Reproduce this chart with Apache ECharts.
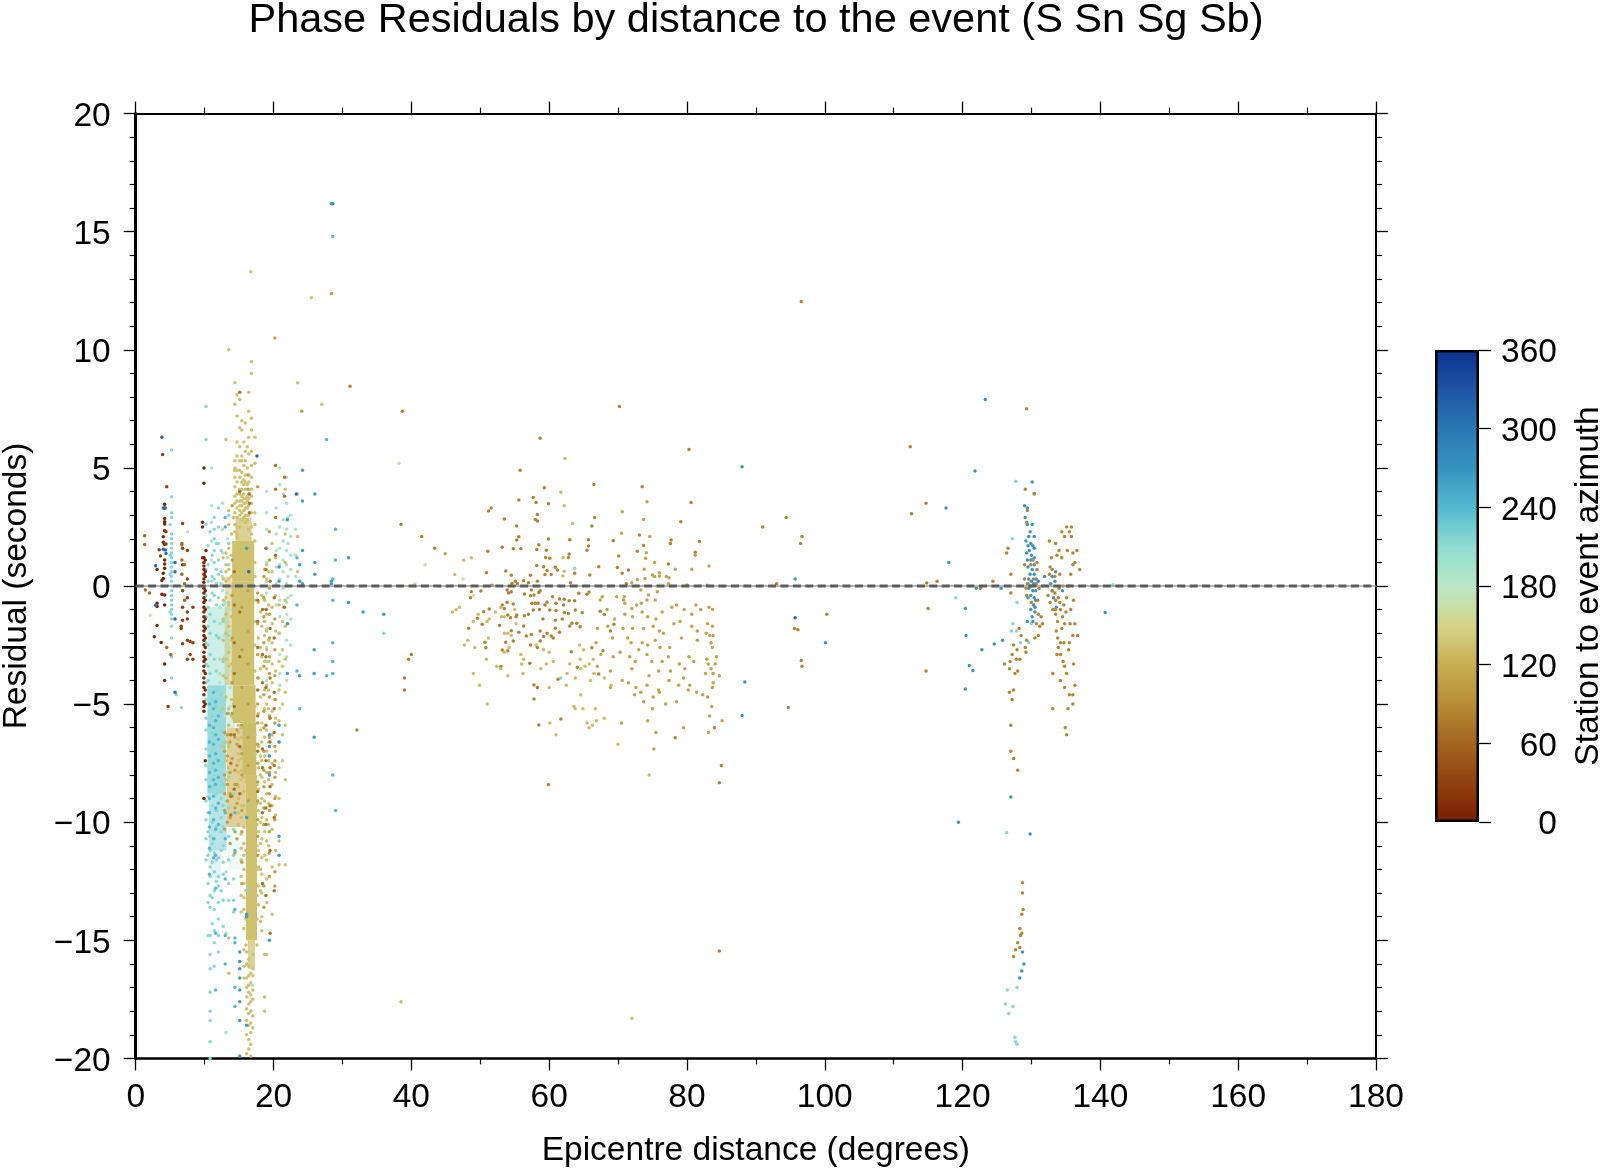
<!DOCTYPE html>
<html><head><meta charset="utf-8">
<script src="https://cdn.jsdelivr.net/npm/echarts@6/dist/echarts.min.js"></script>
<style>html,body{margin:0;padding:0;background:#fff}#c{width:1600px;height:1169px}</style>
</head><body><div id="c"></div>
<script>
const titleText = "Phase Residuals by distance to the event (S Sn Sg Sb)";
const xName = "Epicentre distance (degrees)";
const yName = "Residual (seconds)";
const barName = "Station to event azimuth";
const azimuthRamp = ["#7A1E03","#8F4210","#A3641F","#B68D36","#C9AE52","#D5D48A","#B8E8C4","#8FDDD2","#54B8D0","#3793BF","#2A78B4","#1F55A2","#0B318F"];

// Solid-looking dense regions: [dLo, dHi, rLo, rHi, azimuth, opacity]
const denseBands = [
 [10.4,13.6,-4.2,-.9,203,.5],[10.4,13.1,-8.8,-4.2,222,.75],[10.6,13.2,-11.2,-8.8,226,.5],[10.8,12.4,-12.4,-11.2,228,.2],
 [13.1,14.4,-6,-4.2,190,.5],[13.2,16,-10.2,-6,122,.6],[13.4,16,-12,-10.2,195,.18],[12.9,13.9,-4.2,.4,130,.45],
 [14,17.2,.2,1.9,135,1],[14.5,16.8,1.9,2.9,135,.75],[13.9,17.2,-4.2,.2,135,1],
 [14.1,17.4,-5.8,-4.2,135,1],[15.5,17.5,-8,-5.8,132,1],[16,17.6,-15,-8,135,1],[16.3,17.3,-16.2,-15,135,.75]
];

// Columns: [distance, [residuals...]]
const az135Columns = [
 [12.7,[1.2,.3,-.6,-1.4,-2.3,-3.1,-3.8,-5.2,-6.8]],[13.1,[6.2,1.4,.9,.6,.2,-.5,-1.2,-2,-3.1,-3.9,-4.7,-6.6,-7.4,-8.2]],
 [13.5,[10,3.2,2.6,1.6,.7,.3,-.8,-1.7,-2.8,-3.4,-5.2,-5.9,-6.8,-7.7]],
 [13.9,[2.2,1.3,.4,-.4,-1.3,-2.3,-3.3,-4.1,-4.8,-5.5]],
 [14.2,[2.9,1.8,1,.5,-5,-5.6,-.1,-1.1]],
 [14.4,[8.6,7.7,5.3,5,4.6,4.2,3.5,3.1,2.6,2.3,3.8,4.9]],
 [14.7,[8.1,7.2,6.1,4.9,3.9,3.3,2.9,2.5,2.2,2.05,4.4,3.6,5.5]],
 [15.1,[7.9,6.7,5.9,5.3,4.6,4.1,3.6,3.2,3,2.5,3.4,3.9,4.9]],
 [15.4,[7,6.6,5.5,5.3,4.4,3.8,3.4,3.1,2.8,4.1,3.6,4.8]],
 [15.7,[6.1,5.1,4.5,3.9,3.5,3.2,2.9,3.7,4.3]],
 [15.9,[6.9,5.7,5.3,4.7,4.1,3.7,3.3,3,2.7,3.5,4.4]],
 [16.2,[5.9,5,4.3,3.8,3.3,3,3.6,2.8]],
 [16.4,[8.2,7.4,6.3,5.6,4.7,4.4,3.9,3.4,3,2.4,3.7]],
 [16.8,[9.5,9,7.1,6.6,5.7,5.1,4.1,3.5,3.1,2.5,2.2,3.8,4.6]],
 [17.3,[6.3,5.2,3.1,2.6,1.9,1,.4,-.6,-1.5,-2.5,-3.6,-5.1,-6.3,-7.1]],
 [14.9,[-5.9,-6.2,-6.5,-6.8,-7.1,-7.4,-7.9,-8.5,-9,-9.6,-10.1]],
 [15.3,[-6,-6.4,-6.9,-7.3,-7.8,-8.2,-8.8,-9.3,-9.8,-10.5,-11.1,-11.6,-12.3,-13.1,-13.8]],
 [15.7,[-8.1,-8.7,-9.3,-10.2,-10.9,-11.4,-12,-12.6,-13.2,-13.7,-14.5,-15.4,-16.1,-16.6]],
 [16,[-5.9,-6.6,-7.5,-8.3,-9.7,-11.2,-12.9,-14.1,-15.2]],
 [16.1,[-15.5,-16,-16.6,-17,-17.4,-17.9,-18.4,-19,-19.8]],
 [16.4,[-16.5,-16.9,-17.2,-17.7,-18.1,-18.6,-19.2,-19.6,-16.1,-15.8]],
 [16.7,[-16.4,-16.8,-17.3,-17.6,-18,-18.5,-18.9,-19.4,-19.9,13.3]],
 [17,[-16.5,-17.1,-17.5,-18.2,-18.7,-15.6,-16.2]],
 [17.6,[-8.4,-9.2,-10.1,-11,-12,-13.1,-14.1,-15.2]],
 [17.8,[-5.4,-6.8,-7.7,-8.6,-9.5,-10.4,-11.2,-11.9,-12.7,-13.5,-2.2,-.7,-3.9]],
 [18.1,[-1.1,-2.6,-3.5,-4.7,-6.1,-7.2,-8,-9.2,-10,-10.9,-12,-12.9,-14.2]],
 [18.3,[-5.8,-6.6,-7.4,-8.1,-9,-9.8,-10.7,-11.5,-12.2,-13,-14,-14.6,-.4,-1.7,-3]],
 [18.7,[.7,-.6,-1.5,-2.1,-3.2,-4.4,-5.2,-6.4,-7.2,-8.3,-9.1,-10.4,-11.4,-15.6,-17.4,-18]],
 [19,[.9,.3,-1.2,-1.9,-2.7,-3.5,-4.2,-5,-6.1,-7,-7.9,-8.8,-9.9,-10.8,-11.6,-12.4,-13.4,-15.6]],
 [19.3,[.6,-.8,-2.3,-3.2,-4.4,-5.2,-6.6,-7.4,-8.2,-9.2,-10.1,-11]],
 [19.8,[1.8,.6,-.9,-1.6,-2.4,-3.3,-4.1,-5.3,-6.3,-7.5,-8.4,-9.3,-10.3,-11.9,-13.9]],
 [20.3,[1.2,-.4,-1.9,-3.6,-4.8,-5.6,-7,-7.9,-8.9,-9.7,-11.2]],
 [20.8,[-.8,-2,-3.2,-4.4,-5.7,-6.6,-7.7,-9,-10.8,-11.8]],
 [21.3,[-1.5,-2.7,-3.4,-5,-6.3,-7.4]],
 [21.7,[4.1,2.2,1,-.6,-1.7,-3.1,-4.5,-5.9,-8.2,-11.8]],
 [23.5,[8.6,3.9,2.1,.6]],[27,[7.7]],[25.5,[12.2]],[13.5,[-14.9,-16.4]]
];
const az105Columns = [
 [12.9,[-6.2,-7,-8,-8.8,-9.5,-10.3]],[13.3,[-5.4,-6.3,-7.2,-8.4,-9.1,-10]],[13.7,[-6.6,-7.9,-8.8,-9.8,-10.9]],
 [14,[3.4,1.1,-.4,-2.2,-4.1,-5.4,-7.3,-8.9]],[14.4,[-6.4,-7.8,-8.4,-9.4,-10.4,-11.3]],
 [14.7,[-6.1,-6.7,-7.6,-8.4,-9.2,-10.7]],
 [15.4,[-.9,-2.7,-4.3,-5.9,-7.1,-8,-9.5,-10.4,-11.7,-12.6]],
 [16.3,[4.7,4.1,-.2,-1.9,-3.3,-5,-6.4,-7.6,-9.1]],
 [17.7,[4.2,-.3,-1.6,-2.9,-3.9,-5,-5.8,-6.7,-7.5,-8.3,-9.1,-9.9,-10.6,-11.4]],
 [18.6,[.4,-.5,-1.3,-2.4,-3.4,-4.6,-5.3,-6,-7,-7.8,-8.5,-9.4,-10.1,-12.7,-13.6]],
 [19.4,[2.3,1.1,-.1,-1.2,-2.2,-3,-3.7,-4.7,-5.5,-6.4,-7.2,-7.9,-8.8,-9.5,-10.4,-11.3,-12.3]],
 [20.2,[10.5,-1.4,-2.7,-3.8,-4.8,-5.8,-6.8,-7.4,-8.1,-9,-9.9,-12.1,-12.7]],
 [24.1,[7.4]],[28.4,[12.38]]
];
const az70Columns = [
 [17.7,[-.6,-1.5,-2.6,-4.4,-5.5,-7,-8.7]],
 [18.4,[-1,-2.9,-4.1,-6.9,-7.7,-9.6,-12.6]],
 [18.9,[1.6,.7,-1,-3,-4.3,-5.9,-7.4,-9.4,-10.1,-13.1]],
 [19.5,[.2,-1.8,-3.9,-5.6,-6.6,-7.7,-8.5,-9.3,-11.2,-14.7]],
 [20.1,[-.5,-2.2,-4.5,-5.2,-6.2,-7.6,-9.8,-12.9]],
 [14.3,[.6,-.8,-2.4,-3.7,-5.1,-6.3,-8.6]],[15.1,[8.2,4,-1.1,-3,-6.8,-8.8]],[13.8,[-6.3,-7.5,-8.9,-9.7]],
 [16.5,[3.9,3.5,3.1]],[21.6,[4.6,3.8,-.9]],[20.3,[5.1,4.1,2.9,1.3]]
];
const az5Columns = [
 [9.9,[5,4.35,1.2,1,.85,.7,.5,.3,.15,-.1,-.3,-.5,-.7,-.9,-1.1,-1.3,-1.5,-1.7,-1.9,-2.1,-2.3,-2.5,-2.8,-3,-3.2,-3.4,-3.6,-3.9,-4.1,-4.3,-4.6,-4.9,-5.1,-5.3,-9]],
 [10.1,[1.1,.6,.4,-.2,-.6,-1,-1.4,-1.8,-2.2,-2.6,-3.1,-3.7,-4.4,-5,-7.4]],
 [9.7,[2.7,2.5,1.2]],[4.2,[3.46,3.3,2.86,2.72,2.62,2.34,1.76,1.1,.93,.75,-.38,-.8,-3.3,-4]],
 [4,[2.09,1.85,.54,.32]],[10.2,[1.5]],[3.8,[.23,-.35]],[3.1,[.7,-.73,-.87,-1.67]],[2.7,[-2.15]],[3.7,[-2.39]]
];
const az30Columns = [
 [4.5,[4.2]],[3.9,[5.57]],[3.4,[1.54]],[4.4,[2.3,1.78]],[3.6,[1.27]],[6.8,[2.65,1.6,.9,-.2,-.9,-1.45,-2.45]],
 [7.5,[1.5,.3,-.5,-1.1,-1.4,-2.3,-3.1]],[8.3,[-.9,-2.4,-3.1]],[6.6,[-1.7,-1.8]],[4.7,[-5.1]],[7.9,[-2.35,-2.9]]
];
const az65Columns = [[1.3,[2.13,1.76]],[1.4,[-.17]],[6.7,[1.8,1.75,1.1,.5]],[7.1,[.9,.1,-.6]],[2,[-.3]],[5.1,[-2.9]],[4.5,[-2.6]]];
const az215Columns = [
 [5.2,[5.76,3.78,3.1,2.9,2.2,2,1.8,1.6,1.4,1.2,1,.8,.6,.4,.2,0,-.2,-.4,-.6,-.8,-1,-1.2,-1.4,-1.7,-2.2,-3,-3.9]],
 [5,[2.6,1.3,.5,-1.1]],[10.2,[7.6,6.2,2.6,.7,-.4,-1.3,-2.4,-3.3,-4.1,-4.8,-5.6,-6.1,-6.9,-7.6,-8.2,-9.1,-9.9,-10.7,-11.6]],
 [10.5,[1.7,.9,.2,-.9,-1.7,-2.5,-3.4,-4,-8.9,-9.6,-10.4,-11.4,-12.6,-13.4,-14.8]],
 [10.8,[2.3,-.6,-1.2,-2,-2.9,-3.7,-10.6,-11.2,-11.9,-12.3,-13.1,-13.6,-14.8,-15.6,-16.2,-17.2,-18,-18.4,-19.3,-20]],
 [11.1,[-4.8,-5.5,-6.2,-7,-7.7,-8.5,-9.3,-10,-10.9,-11.7,-13.2,-14.3,1.3,.4,-.3]],
 [11.4,[2.9,2.4,2,1.5,1,.3,-.4,-1.5,-3.1,-10.7,-11.3,-12.1,-12.9,-13.7,-14.6,-15.1,-16.1]],
 [11.7,[-.8,-2.1,-3.6,-4.4,-5.1,-6.3,-7.3,-8.8,-9.5,-10.2,-11.6,-12.5,1.8,.7,.1]],
 [12,[3.3,2.5,1.8,1.1,.5,-.5,-2.2,-11.5,-12.3,-12.7,-13.4,-14.1,-14.8,-15.5]],
 [12.4,[-4.6,-5.3,-6.1,-6.8,-7.6,-8.3,-9,-9.8,-10.4,-11.2,-12.9,1.5,.6,.1]],
 [12.7,[-.8,-1.5,-3.2,-6.6,-7.5,-8.4,-9.3,-10.2,-11,-11.7,-12.2,-13.3,-14.4]],
 [13.5,[3,1.8,.9,-.7,-2.1,-5.4,-6.7,-8.1,-9.4,-10.6,-11.6,-12.6,-13.3]],
 [14.2,[-8.8,-10.3,-11.4,-12.4,-13.3,-13.8]],[6.6,[-5.14]],[16.3,[-6.4,-9.2,-12.8]],[5.9,[-4.6]]
];
const az190Columns = [
 [11,[5,3.4,2.7,1.9,1.1,.2]],[12.6,[3.5,2.4,1.4,.4,-.2]],[13.3,[2,1.2,-.3]],[19,[4,3.1,2.4,1.6,1,.2,-.3,-1,-1.8,-2.6,-3.2,-4]],
 [20.9,[5,4.3,2.5,1.6,.9,.3,-.6,-1.3,-2,-2.9,-3.7,-4.2,-5.2]],[21.9,[4.6,3.5,2.4,1.5,.9,.1,-.7,-1.2,-2.3,-3,-4]],
 [22.5,[3,2.1,1.3,.7,-.4,-1.4,-2.5]],[23.2,[2.4,1.3,.4]],[16.9,[-18.2,-16.9]],[13.1,[-6.4,-7.9,-9.1,-10.7,-12.1,-14.7,-18.9]],
 [12.2,[-.9,-1.6,-2.2,-3.1,-3.7,-4.1]],[13.7,[-1,-1.9,-2.6,-3.6,-4.3,-5.1]],[12.9,[-.7,-1.4,-2.1,-3,-3.8,-4.6,-5.5]],
 [21.4,[3.9,2.8,1.9,1.1,.6,-.1,-.9]],[22.1,[2.9,1.8,.4,-.5,-1.6]],[20.4,[3.3,2.2,1.5,.8,.1,-.8]]
];
const az240Columns = [
 [10.7,[-5,-5.9,-6.6,-7.2,-7.9,-8.5,-9,-9.6,-10.2,-11.1,-12.2]],[11.3,[-4.5,-5.2,-6,-6.7,-7.5,-8.2,-8.9,-9.9,-10.7,-11.5]],
 [11.6,[-4.9,-5.7,-6.3,-7.1,-7.8,-8.4,-9.4,-10.3,-11.4,-12.8,-14.7,-17.1]],[12,[-5.5,-6.5,-7.4,-8.1,-9.2,-10.1]],
 [13,[2.9,2.5,-9.6,-10.7,-12.4,-14.8,-16]],[14.4,[-9.6,-11.2,-13.7,-14.9,-15.1,-17,-17.8]],
 [28.6,[14.8,.3,-.6,-2.4,-3.2,-3.7,-8]],[27.7,[6.2,-3.8]],[29,[2.4,1.1,-9.5]],[23.8,[-5.2]],[23.4,[1.2,-.8,-3.6]]
];
const az265Columns = [
 [15.1,[-15.5,-15.9,-16.2,-16.6,-17.1,-17.6,-18.4,-19.9]],[16.1,[1.6,-9.8,-13.9,-14,-18.6]],[19.4,[-6.3,-6.8,-7.2,-8,-15]],
 [20.8,[.8,.2,-5.9,-6.6,-10.6,-11.4]],[22,[2.8,-1.6,-3.7]],[24.2,[4.9,3.6,1.5,.1]],[26,[3.9,1,.5]],[28.4,[16.18,.2,.1]],[25.9,[-6.4,-3.7,-2.7]],[23.8,[.9,.2,-3.8]],[30.9,[1.2,-.7]],[33,[-1.1]],[36,[-1.2]]
];
const az300Columns = [[3.8,[6.3]],[2.9,[.86,-.82]],[4,[3.3,1.56]],[4.3,[3.3,1.52]],[4.4,[1.38]],[5.7,[1,-1.4,-4.5,.6]],[16.4,[.6]],[17.6,[5.5]],[23.3,[3.9]],[95.7,[-1.34]]];

// Individually legible marks: [distance, residual]
const sparseAz85 = [[38.7,7.4],[70.2,7.6],[96.6,12.04],[31.1,8.46],[129.3,7.5],[58.7,6.26],[112.4,5.9],[80.3,5.78],[55.8,4.9],[66.5,4.3],[59.3,4.16],[73.5,4.2],[55.6,3.64],[57.7,3.75],[58.1,3.54],[59.9,3.48],[80.6,3.54],[51.6,3.3],[51.2,3.17],[58.3,3.03],[66.6,2.9],[53.5,2.84],[58,2.82],[58.3,2.75],[79.1,2.72],[55.3,2.54],[66.2,2.54],[55.6,2.09],[73.1,2.16],[55.3,1.95],[59.9,1.99],[63,1.96],[65.7,1.96],[69.3,1.92],[77.7,1.95],[77.6,1.8],[81.8,1.88],[58.5,1.75],[73.7,1.71],[53.2,1.64],[54.8,1.58],[55.9,1.58],[58.2,1.55],[59.6,1.51],[65.7,1.69],[65.5,1.51],[51.1,1.47],[72.8,1.47],[81.2,1.43],[62.9,1.35],[70.1,1.27],[59.5,1.21],[60.1,1.17],[62.8,1.21],[58.2,.87],[59.2,.82],[60.9,.79],[61.2,.68],[59.7,.66],[67.2,.82],[69.9,.78],[71.5,.68],[77.3,.93],[50.9,.56],[53.7,.63],[63.7,.54],[70.6,.54],[59.4,.49],[60.3,.49],[54.5,.45],[57.3,.45],[65.9,.47],[56.3,.22],[55.1,.2],[58.3,.2],[57,.14],[54.6,.11],[55.4,.09],[63.1,.14],[51.7,.03],[71.2,.09],[48.7,-.24],[48.6,-.5],[50.1,-.21],[53.9,-.17],[54.1,-.3],[54.5,-.24],[56.4,-.34],[57.4,-.17],[57.8,-.38],[58.7,-.2],[58.5,-.28],[57.3,-.41],[57.5,-.73],[58,-.73],[58.4,-.73],[60.5,-.45],[61.5,-.55],[62.2,-.56],[62.9,-.62],[63.7,-.62],[64.3,-.31],[65.5,-.35],[65.8,-.25],[53.9,-.69],[54.8,-.76],[53.2,-.8],[53.5,-.95],[59.7,-.69],[59.4,-.8],[61,-.73],[62.1,-.8],[57.7,-1.02],[58.6,-.99],[60.1,-1.02],[61,-1.04],[62.2,-1.13],[62.8,-1.16],[63.8,-1.02],[64.8,-1.13],[50.5,-1.09],[51.3,-.97],[49.6,-1.37],[54,-1.23],[55.3,-1.23],[55.2,-1.3],[56.4,-1.26],[57,-1.2],[67.4,-1.07],[68,-1.21],[54.4,-1.34],[60.9,-1.45],[61.9,-1.4],[59.1,-1.4],[50.3,-1.62],[48.3,-1.79],[52.8,-1.67],[56.3,-1.69],[55.6,-1.96],[54.5,-1.89],[63.3,-1.58],[64,-1.58],[64.5,-1.72],[63,-1.69],[60.9,-1.79],[61.5,-1.96],[59.7,-2],[58.7,-1.9],[60.3,-2.12],[56.7,-2.12],[57.4,-2.05],[68.9,-1.9],[69.4,-1.62],[50.7,-2.38],[50.8,-2.61],[53.7,-2.38],[53.2,-2.71],[54,-2.74],[54.8,-2.33],[58.3,-2.6],[57.3,-2.5],[59.2,-2.14],[60.6,-2.2],[58.7,-2.33],[66.2,-2.61],[67.8,-2.74],[63.2,-2.78],[67.2,-3.73],[64.1,-3.44],[53,-3.41],[57.2,-3.27],[57.8,-4.19],[58.3,-4.3],[57.8,-4.78],[61.7,-5.63],[58.5,-5.88],[78.3,-6.42],[61.3,-3.95],[32.1,-6.1],[114.7,-3.6],[115,-.95],[114.7,3.5],[112.6,3.06],[91,2.5],[94.4,2.9],[96.7,2.1],[96.5,1.8],[93,.1],[96.1,-1.85],[95.6,-1.8],[100.3,-1.2],[96.6,-3.15],[96.7,-3.4],[94.7,-5.14],[85,-7.6],[84.7,-8.33],[84,-6],[84.7,-15.45],[59.9,-8.4],[116.3,.2],[114.8,.13],[43.4,1.6],[41.5,2.1],[39,-3.9],[39,-4.4],[40,-2.9],[39.6,-3.1],[38.5,2.6]];
const sparseAz110 = [[44.9,1.37],[74.2,3.57],[70.6,3.14],[73.7,2.82],[70.5,2.23],[74.6,2.1],[74,1.17],[74.1,1.41],[81.2,1.3],[75.3,1],[73.8,.71],[78.3,.71],[80.7,.71],[83.2,.85],[75,.47],[76,.56],[75.3,.4],[76,.42],[77,.4],[77.4,.35],[72.8,.28],[73.9,.32],[77.3,.09],[80,.04],[82.9,.03],[72,.14],[67.7,-.45],[67.4,-.59],[69.8,-.45],[70.9,-.45],[71,-.73],[72,-.95],[72.7,-.8],[73.4,-.73],[74.2,-.59],[75.4,-.59],[75.7,-.24],[73.3,-.17],[74.4,-.38],[70.8,-.59],[68.4,-1],[69.5,-1.4],[71,-1.2],[72.1,-1.3],[73.5,-1.1],[74.3,-1.3],[75.5,-1.4],[76.4,-1.1],[77.8,-.9],[78.5,-.8],[79.6,-1],[80.7,-1.2],[81.3,-.8],[82,-1],[83.2,-.9],[83.7,-1],[67,-1.8],[68.5,-1.7],[70.7,-1.8],[72.1,-1.8],[73.7,-1.8],[75.1,-1.7],[76,-1.9],[76.6,-2],[78.1,-1.6],[79,-1.5],[80.7,-1.7],[81.5,-1.9],[83,-1.6],[83.7,-1.7],[83.3,-2.1],[83.8,-2.1],[82.8,-2],[66.8,-2.4],[69.2,-2.2],[71.4,-2.2],[71.9,-2.4],[73.5,-2.4],[74.3,-2.5],[75.4,-2.3],[76.1,-2.6],[77.5,-2.6],[79.2,-2.2],[81.5,-2.3],[83.5,-2.4],[83.7,-2.6],[67.5,-2.9],[69.3,-3],[70.3,-2.8],[71.7,-3],[72.5,-3.2],[73,-2.7],[74.2,-2.9],[74.9,-3.2],[76.4,-3.2],[77.3,-3],[78.9,-3.3],[80.3,-3],[81,-3.2],[82.9,-3.1],[84.3,-3],[83.1,-3.3],[84.1,-3.3],[67,-3.4],[68.9,-3.6],[72,-3.5],[74.5,-3.8],[75.9,-3.6],[77.6,-3.6],[79.7,-3.5],[82.7,-3.7],[83.5,-3.5],[83.8,-3.7],[84.7,-3.8],[68.9,-4.3],[70.6,-4],[71.5,-4.1],[72.6,-4.3],[73.3,-4.5],[74.2,-4.2],[75.9,-4.4],[77.4,-4],[78.8,-4.2],[79.5,-3.9],[80.4,-4.2],[83.8,-4.1],[83.7,-4.3],[72.4,-4.6],[73.7,-4.9],[75.1,-4.7],[76,-4.5],[76.9,-5],[78.5,-4.9],[80.2,-4.4],[81.4,-4.5],[82.3,-4.6],[83,-4.7],[83.6,-5.1],[70.5,-5.8],[74.3,-5.7],[75,-5.2],[75.5,-6.2],[79.5,-6],[83.3,-5.5],[83.1,-6.2],[75.2,-6.9],[85.1,-5.7]];
const sparseAz130 = [[62.3,5.4],[61.7,3.97],[62.2,3.4],[63.4,2.65],[62,1.21],[47.6,1.09],[48.7,1.2],[46.3,.49],[62.2,.62],[62,.42],[47,-.9],[46.5,-1],[53,-.9],[53.5,-1.3],[55,-1],[49.7,-1.2],[52.2,-1.1],[53.1,-1.3],[49,-1.5],[55.2,-1.6],[53.5,-2],[54,-2],[54.5,-2.1],[48.2,-2.3],[49.2,-2.6],[51.2,-2.2],[54.2,-2.6],[53.5,-2.8],[58.1,-2.5],[59.2,-2.7],[60,-2.8],[64.4,-2.5],[65,-2.7],[66.4,-3.1],[65.8,-3.3],[64.5,-3.1],[64.6,-3.5],[65.2,-3.4],[55.9,-2.9],[56.3,-3.1],[56,-3.3],[50.9,-3.1],[52.4,-3.4],[53,-3.5],[54,-3.8],[56.2,-3.7],[58.8,-3.5],[60.6,-3.2],[59.6,-3.3],[63,-3.3],[66.5,-3.7],[62.6,-3.7],[63.8,-3.9],[66,-4],[68,-3.9],[69,-4.2],[60,-4.3],[62.5,-4.2],[64.6,-4.6],[51,-5],[63.6,-5.1],[63.8,-5.2],[64.9,-5.2],[66.7,-5.2],[68,-5.6],[60.1,-5.8],[61,-6.3],[65.5,-5.8],[66.3,-5.9],[66.9,-5.7],[65.8,-6],[49.9,-4.2],[49,-3.7],[46,-1.1],[51.3,-1.4],[51,-1.5],[47.7,-2.5],[72,-18.3],[38.5,-17.6],[74.5,-8],[70,-6.7]];
const sparseAz215 = [[63.7,.75],[61.7,-3.9],[36,-2],[126.4,-10.44],[126.5,-17.1],[126.2,-17.7],[127.3,-17.8],[126.7,-18.1],[127.9,-17],[127.6,-19.1],[127.9,-19.4],[127.7,-19.3],[127.7,4.44],[141.8,.05],[127.2,2],[127.9,-.7],[127.3,-1.6],[128.4,-2.4],[127.1,-1.9],[129.6,-2.4],[127.8,-1.9],[119,-.5],[130,-1.6]];
const sparseAz265 = [[28.6,16.18],[123.3,7.9],[88,5.05],[121.8,4.87],[117.6,3.3],[118,1],[140.7,-1.12],[95.7,.3],[100.1,-2.4],[88.4,-4.06],[88,-5.48],[120.4,-.95],[120.5,-2.1],[121,-3.37],[121.5,-3.58],[120.4,-4.36],[122.8,-2.7],[124.6,-2.46],[125.8,-2.3],[119.4,-10],[127,-8.93],[129.8,-10.5],[128.7,-15.5],[128.9,-16],[128.6,-16.3],[128.3,-16.6],[130.1,4.4],[130.4,3.92],[129,3.4],[129.4,3.3],[129.1,2.9],[129.4,2.6],[129.8,2.3],[130.1,2.6],[130.4,2.1],[129.6,2.1],[129.2,1.9],[129.5,1.7],[129.9,1.8],[130.2,1.7],[130.4,1.6],[129.7,1.5],[129.3,1.4],[130,1.3],[130.4,1.2],[129.4,1.1],[129.9,1.1],[130.4,.9],[129.5,.8],[130.1,.7],[129.8,.5],[130.4,.5],[129.6,.3],[130,.2],[130.7,.3],[131,.2],[129.4,.1],[129.9,0],[130.3,.1],[129.6,-.1],[130.2,-.2],[130.6,-.2],[129.9,-.4],[130.4,-.5],[129.5,-.5],[130.3,-.8],[130.6,-.6],[129.9,-1],[130.5,-.9],[130.1,-1.3],[130.5,-1.1],[130.2,-1.5],[129.4,-1.5],[132.8,.1],[133,.4],[131.9,.4],[133.5,.6],[133,-.2],[134.5,-.2],[133.6,-.9],[133.2,-.5],[122,-.1],[125.6,-.1],[133.4,.2]];
const sparseAz75 = [[129.1,4.1],[130.4,3.9],[129.4,3.2],[129.3,2.7],[130.2,1.1],[130.8,1],[129,.9],[129.9,.9],[130.8,.7],[129.5,.1],[129,.3],[129.2,-.1],[130.7,.1],[131.1,-.1],[130.3,.3],[129.3,-.4],[130.9,-.6],[130,-.7],[131.4,-1.3],[131,-1.2],[131.6,-1.6],[130.7,-1.6],[131,-2.1],[131.2,-1.7],[126.6,1.6],[126.4,1.4],[127,.5],[127,-.3],[124.4,.2],[122.6,-.1],[128.5,-2.1],[129.2,-2.8],[129.3,-2.3],[128.2,-1.8],[127.4,-2.5],[127.2,-2.9],[128.3,-3.1],[127.9,-2.7],[126.9,-3.2],[126.1,-3.3],[126.8,-3.5],[127.6,-3.7],[128,-3.6],[127.8,-3.1],[129.1,-2.6],[130.5,-2.2],[127,-5.9],[127,-7],[127.4,-7.3],[128,-7.8],[126.8,-4.5],[127.2,-4.8],[127.4,-4.4],[128.7,-12.56],[128.7,-13],[128.8,-13.7],[128.6,-13.9],[128.3,-14.5],[128.4,-14.8],[128,-15.1],[127.7,-15.4],[128.3,-15.3],[127.4,-15.7],[128.6,-14.7],[132.6,1.9],[133.5,1.8],[134,1.5],[133.7,1.3],[132.9,1.2],[134.4,1.2],[132.7,.8],[133,.7],[134.1,.5],[132.6,.5],[133.4,.4],[135.7,.5],[136,.9],[135.2,1.5],[136,1.4],[135.1,2.5],[135.8,2.5],[135.5,2.3],[134.4,2.3],[134.8,2.1],[135.8,2.1],[136.6,1.5],[136.3,1],[137,.7],[134,-.1],[134.6,0],[135.4,0],[133,-.2],[133.4,-.3],[133.9,-.5],[133.5,-.6],[134.1,-.7],[132.7,-.7],[132.4,-.4],[134.7,-.8],[135.1,-.5],[136.1,-.6],[133.1,-1],[133.5,-1],[134.2,-1],[134.5,-1.3],[135,-1.1],[135.7,-1],[133.5,-1.2],[133.8,-1.5],[134.8,-1.6],[133.6,-1.9],[134.4,-1.8],[135.6,-1.6],[136.3,-1.6],[133.8,-2.2],[134.2,-2.4],[133.9,-2.6],[134.7,-2.4],[135.5,-2.4],[136,-2.1],[136.7,-2.1],[133.7,-2.9],[134.2,-2.9],[135.4,-2.7],[136.1,-3.3],[134.6,-3.2],[134.8,-3.4],[135.1,-3.7],[134.2,-4],[133.1,-3.7],[134.8,-4.3],[136.3,-4.2],[136,-4.6],[135.5,-4.6],[135.3,-5.2],[136,-5],[134.9,-6],[135.1,-6.3],[133.1,-5.2]];
const sparseAz170 = [[38.2,5.2],[42,.9],[40.5,.1],[2.1,-1.24],[7.5,2.3],[47.5,.3],[49,-.4]];

const toPoints = (cols, az) => cols.flatMap(([d, rs]) => rs.map(r => [d, r, az]));
const toMarks = (pairs, az) => pairs.map(([d, r]) => [d, r, az]);
const points = [
 ...toPoints(az190Columns,190), ...toPoints(az215Columns,213), ...toPoints(az240Columns,240),
 ...toPoints(az135Columns,135), ...toPoints(az105Columns,108), ...toPoints(az70Columns,72),
 ...toPoints(az5Columns,6), ...toPoints(az30Columns,28), ...toPoints(az65Columns,65),
 ...toPoints(az265Columns,262), ...toPoints(az300Columns,310),
 ...toMarks(sparseAz85,82), ...toMarks(sparseAz110,110), ...toMarks(sparseAz130,130),
 ...toMarks(sparseAz215,215), ...toMarks(sparseAz265,268), ...toMarks(sparseAz75,85), ...toMarks(sparseAz170,170)
];
const zeroLine = [[0,0],[180,0]];
const barScale = [360];

const font = '"Liberation Sans", Arimo, Helvetica, Arial, sans-serif';
const fmt = v => String(v).replace('-', '\u2212');
const ink = '#000';
const L = 135.7, T = 113.6, W = 1240.3, H = 944.8;
const rampStops = azimuthRamp.map((c,i)=>({offset:1-i/(azimuthRamp.length-1),color:c}));
const lbl = {fontFamily:font,fontSize:33.5,color:ink};
const shiftedRich = {v:{...lbl,padding:[6,0,0,0]}};
const richFmt = v => '{v|' + fmt(v) + '}';
const xBase = (pos,w,show)=>({type:'value',gridIndex:0,position:pos,min:0,max:180,interval:20,
  axisLine:{show:true,onZero:false,lineStyle:{color:ink,width:w}},
  axisTick:{show:true,length:12,lineStyle:{color:ink,width:1.3}},
  minorTick:{show:true,splitNumber:2,length:6,lineStyle:{color:ink,width:1.2}},
  splitLine:{show:false},minorSplitLine:{show:false},
  axisLabel:{show,margin:22,...lbl,formatter:fmt}});
const yBase = (pos,w,show)=>({type:'value',gridIndex:0,position:pos,min:-20,max:20,interval:5,
  axisLine:{show:true,onZero:false,lineStyle:{color:ink,width:w}},
  axisTick:{show:true,length:12,lineStyle:{color:ink,width:1.3}},
  minorTick:{show:true,splitNumber:5,length:6,lineStyle:{color:ink,width:1.2}},
  splitLine:{show:false},minorSplitLine:{show:false},
  axisLabel:{show,margin:25,...lbl,rich:shiftedRich,formatter:richFmt}});

const chart = echarts.init(document.getElementById('c'),null,{renderer:'canvas'});
chart.setOption({
 animation:false,backgroundColor:'#fff',
 title:{text:titleText,left:751,top:-5,textAlign:'center',textStyle:{fontFamily:font,fontSize:41.5,fontWeight:'normal',color:ink}},
 grid:[{left:L,top:T,width:W,height:H,containLabel:false,outerBoundsMode:'none'},{left:1435,top:350,width:44,height:472,containLabel:false,outerBoundsMode:'none'}],
 xAxis:[
  {...xBase('bottom',2.5,true),name:xName,nameLocation:'middle',nameGap:75,nameTextStyle:lbl},
  xBase('top',2,false),
  {type:'category',gridIndex:1,data:['azimuth'],show:false}
 ],
 yAxis:[
  {...yBase('left',3,true),name:yName,nameLocation:'middle',nameGap:102,nameRotate:90,nameTextStyle:lbl},
  yBase('right',2,false),
  {type:'value',gridIndex:1,position:'right',min:0,max:360,interval:60,
   axisLine:{show:false},axisTick:{show:true,length:12,lineStyle:{color:ink,width:1.3}},splitLine:{show:false},
   axisLabel:{margin:78,align:'right',...lbl,rich:shiftedRich,formatter:richFmt},
   name:barName,nameLocation:'middle',nameGap:93,nameRotate:90,nameTextStyle:lbl}
 ],
 visualMap:[
  {show:false,type:'continuous',seriesIndex:0,dimension:4,min:0,max:360,inRange:{color:azimuthRamp}},
  {show:false,type:'continuous',seriesIndex:1,dimension:2,min:0,max:360,inRange:{color:azimuthRamp}}
 ],
 series:[
  {type:'custom',xAxisIndex:0,yAxisIndex:0,silent:true,clip:true,data:denseBands,
   encode:{x:[0,1],y:[2,3]},
   renderItem:(p,api)=>{
     const a=api.coord([api.value(0),api.value(3)]),b=api.coord([api.value(1),api.value(2)]);
     return {type:'rect',shape:{x:a[0],y:a[1],width:b[0]-a[0],height:b[1]-a[1]},
       style:{fill:api.visual('color'),opacity:api.value(5)}};
   }},
  {type:'scatter',xAxisIndex:0,yAxisIndex:0,silent:true,symbol:'circle',symbolSize:3.5,clip:true,
   data:points,itemStyle:{opacity:1},z:3},
  {type:'line',xAxisIndex:0,yAxisIndex:0,silent:true,data:zeroLine,showSymbol:false,z:4,
   lineStyle:{color:'#a0a0a0',width:1.4}},
  {type:'line',xAxisIndex:0,yAxisIndex:0,silent:true,data:zeroLine,showSymbol:false,z:5,
   lineStyle:{color:'#5c5c5c',width:3,type:[8,4.4]}},
  {type:'bar',xAxisIndex:2,yAxisIndex:2,silent:true,data:barScale,barWidth:'100%',
   itemStyle:{borderColor:ink,borderWidth:2.5,
     color:new echarts.graphic.LinearGradient(0,0,0,1,rampStops.slice().sort((a,b)=>a.offset-b.offset))}}
 ]
});
</script></body></html>
